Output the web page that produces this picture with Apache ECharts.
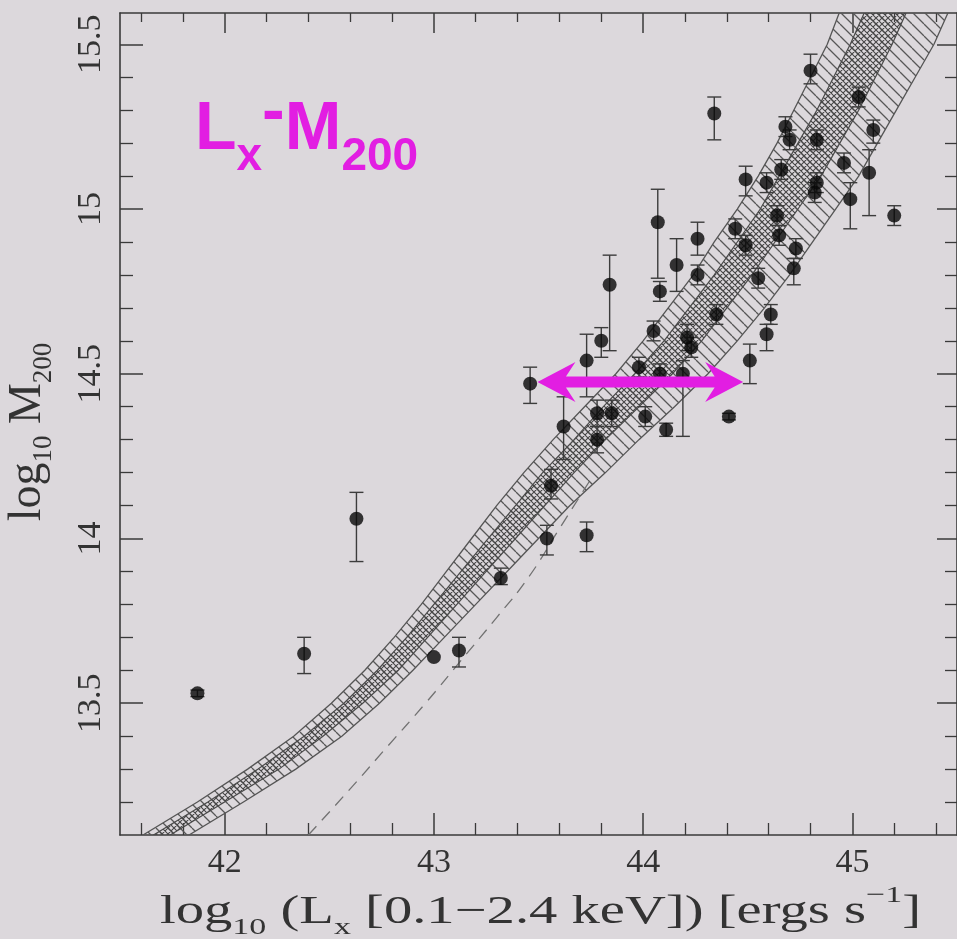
<!DOCTYPE html>
<html>
<head>
<meta charset="utf-8">
<script src="https://cdn.jsdelivr.net/npm/echarts@6/dist/echarts.min.js"></script>
<style>
  html, body { margin: 0; padding: 0; background: #dcd8dc; }
  #chart { width: 957px; height: 939px; }
</style>
</head>
<body>
<div id="chart"></div>
<script>
// Cluster sample: log10 Lx [0.1-2.4 keV] vs log10 M200, with asymmetric mass errors
const lumX = [41.87, 42.38, 42.63, 43.00, 43.12, 43.32, 43.54, 43.73, 43.46, 43.56,
              43.62, 43.73, 43.80, 43.84, 43.78, 43.85, 43.78, 43.98, 44.08, 44.19,
              44.01, 44.11, 44.05, 44.08, 44.07, 44.16, 44.26, 44.26, 44.21, 44.23,
              44.35, 44.44, 44.49, 44.49, 44.59, 44.55, 44.61, 44.59, 44.51, 44.41,
              44.68, 44.70, 44.66, 44.64, 44.65, 44.73, 44.72, 44.80, 44.83, 44.83,
              44.82, 44.96, 44.99, 45.03, 45.10, 45.08, 45.20, 44.34];
const massY = [13.53, 13.65, 14.06, 13.64, 13.66, 13.88, 14.00, 14.01, 14.47, 14.16,
               14.34, 14.54, 14.60, 14.77, 14.38, 14.38, 14.30, 14.52, 14.50, 14.50,
               14.37, 14.33, 14.63, 14.75, 14.96, 14.83, 14.91, 14.80, 14.61, 14.58,
               14.68, 14.94, 15.09, 14.89, 15.08, 14.79, 14.68, 14.62, 14.54, 14.37,
               15.25, 15.21, 15.12, 14.98, 14.92, 14.88, 14.82, 15.42, 15.21, 15.08,
               15.05, 15.14, 15.03, 15.34, 15.24, 15.11, 14.98, 15.29];
const errMinus = [0.01, 0.06, 0.13, 0, 0.05, 0.02, 0.05, 0.05, 0.06, 0.04,
                  0.10, 0.11, 0.05, 0.20, 0.04, 0.04, 0.04, 0.03, 0.03, 0.19,
                  0.03, 0.02, 0.03, 0.03, 0.17, 0.08, 0.05, 0.03, 0.04, 0.03,
                  0.03, 0.03, 0.05, 0.03, 0.03, 0.03, 0.03, 0.05, 0.07, 0.01,
                  0.03, 0.03, 0.03, 0.03, 0.03, 0.03, 0.05, 0.04, 0.03, 0.03,
                  0.03, 0.03, 0.09, 0.03, 0.04, 0.13, 0.03, 0.08];
const errPlus = [0.01, 0.05, 0.08, 0, 0.04, 0.03, 0.04, 0.04, 0.05, 0.05,
                 0.09, 0.08, 0.04, 0.09, 0.04, 0.04, 0.04, 0.03, 0.03, 0.04,
                 0.03, 0.02, 0.03, 0.03, 0.10, 0.08, 0.05, 0.03, 0.04, 0.03,
                 0.03, 0.03, 0.04, 0.03, 0.03, 0.03, 0.03, 0.03, 0.05, 0.01,
                 0.03, 0.03, 0.03, 0.03, 0.03, 0.03, 0.03, 0.05, 0.03, 0.03,
                 0.03, 0.03, 0.05, 0.03, 0.03, 0.07, 0.03, 0.05];

// Model relation band: edges (in log Lx) at each log M200 level
const bandMass   = [13.0, 13.1, 13.2, 13.3, 13.4, 13.5, 13.6, 13.7, 13.8, 13.9, 14.0, 14.1, 14.2, 14.3,
                    14.4, 14.5, 14.6, 14.7, 14.8, 14.9, 15.0, 15.1, 15.2, 15.3, 15.4, 15.5, 15.6];
const outerLeft  = [41.35, 41.61, 41.87, 42.11, 42.33, 42.51, 42.67, 42.81, 42.94, 43.06, 43.18, 43.30, 43.43, 43.57,
                    43.72, 43.87, 44.00, 44.12, 44.24, 44.34, 44.45, 44.55, 44.64, 44.72, 44.80, 44.88, 44.94];
const innerLeft  = [41.40, 41.66, 41.92, 42.16, 42.38, 42.57, 42.73, 42.87, 43.00, 43.13, 43.26, 43.39, 43.52, 43.67,
                    43.81, 43.96, 44.10, 44.22, 44.34, 44.45, 44.56, 44.65, 44.74, 44.83, 44.91, 44.99, 45.06];
const innerRight = [41.48, 41.74, 42.00, 42.26, 42.47, 42.66, 42.83, 42.97, 43.11, 43.25, 43.39, 43.53, 43.67, 43.82,
                    43.98, 44.14, 44.28, 44.40, 44.52, 44.63, 44.74, 44.85, 44.94, 45.03, 45.11, 45.19, 45.26];
const outerRight = [41.57, 41.83, 42.09, 42.34, 42.56, 42.74, 42.90, 43.05, 43.20, 43.35, 43.50, 43.65, 43.82, 43.98,
                    44.15, 44.31, 44.45, 44.58, 44.70, 44.81, 44.92, 45.03, 45.12, 45.21, 45.30, 45.39, 45.46];

// Dashed comparison curve
const dashLum  = [42.40, 42.60, 42.78, 42.96, 43.13, 43.30, 43.45, 43.60, 43.75];
const dashMass = [13.10, 13.24, 13.37, 13.50, 13.63, 13.76, 13.88, 14.03, 14.18];

// Double arrow marking the luminosity scatter at fixed mass
const arrowLum  = [43.495, 44.478];
const arrowMass = 14.475;

// Axis ticks
const xTickValues  = [42, 43, 44, 45];
const xMinorValues = [41.6, 41.8, 42.2, 42.4, 42.6, 42.8, 43.2, 43.4, 43.6, 43.8,
                      44.2, 44.4, 44.6, 44.8, 45.2, 45.4];
const yTickValues  = [13.5, 14, 14.5, 15, 15.5];
const yMinorValues = [13.2, 13.3, 13.4, 13.6, 13.7, 13.8, 13.9, 14.1, 14.2, 14.3, 14.4,
                      14.6, 14.7, 14.8, 14.9, 15.1, 15.2, 15.3, 15.4];

const SERIF = "'Liberation Serif', 'Times New Roman', serif";
const SANS = "'Liberation Sans', Arial, sans-serif";
const INK = '#3a3a3a';
const MAGENTA = '#e21ee2';

// Hatch tiles used as pattern fills for the band
function hatchTile(size, color, width, cross) {
  const c = document.createElement('canvas');
  c.width = size; c.height = size;
  const g = c.getContext('2d');
  g.strokeStyle = color;
  g.lineWidth = width;
  g.beginPath();
  for (const k of [-size, 0, size]) {
    g.moveTo(k, 0); g.lineTo(k + size, size);
    if (cross) { g.moveTo(k + size, 0); g.lineTo(k, size); }
  }
  g.stroke();
  return c;
}
const outerHatch = { image: hatchTile(12, '#575757', 1.3, false), repeat: 'repeat' };
const innerHatch = { image: hatchTile(6, '#464646', 1.1, true), repeat: 'repeat' };

const points = lumX.map((x, i) => [x, massY[i]]);
const errorBars = [];
lumX.forEach((x, i) => {
  if (errMinus[i] > 0 || errPlus[i] > 0) {
    errorBars.push([x, massY[i] - errMinus[i], massY[i] + errPlus[i]]);
  }
});
const dashed = dashLum.map((x, i) => [x, dashMass[i]]);

function bandPolygon(api, left, right) {
  const pts = [];
  for (let i = 0; i < bandMass.length; i++) pts.push(api.coord([left[i], bandMass[i]]));
  for (let i = bandMass.length - 1; i >= 0; i--) pts.push(api.coord([right[i], bandMass[i]]));
  return pts;
}

// Measure the natural width of a run of styled fragments
function textWidth(parts) {
  const ctx = document.createElement('canvas').getContext('2d');
  let w = 0;
  for (const [txt, font] of parts) { ctx.font = font; w += ctx.measureText(txt).width; }
  return w;
}
const xTitleNatural = textWidth([
  ['log', '40px ' + SERIF], ['10', '24px ' + SERIF], [' (L', '40px ' + SERIF], ['x', '24px ' + SERIF],
  [' [0.1\u22122.4 keV]) [ergs s', '40px ' + SERIF], ['\u22121', '24px ' + SERIF], [']', '40px ' + SERIF]
]);
const xTitleScale = 761 / xTitleNatural;

function majorAxis(kind, position, values, showLabel, tickLen) {
  const a = {
    type: 'value', position: position,
    min: kind === 'x' ? 41.5 : 13.1,
    max: kind === 'x' ? 45.5 : 15.595,
    axisLine: { show: true, onZero: false, lineStyle: { color: INK, width: 1.6 } },
    axisTick: { show: true, inside: true, length: tickLen, customValues: values,
                lineStyle: { color: INK, width: 1.5 } },
    axisLabel: { show: showLabel, customValues: values, fontFamily: SERIF, fontSize: 34, color: '#333' },
    splitLine: { show: false }
  };
  if (kind === 'x') a.axisLabel.margin = 11;
  else { a.axisLabel.rotate = 90; a.axisLabel.margin = 12; }
  return a;
}
function minorAxis(kind, position, values, tickLen) {
  return {
    type: 'value', position: position,
    min: kind === 'x' ? 41.5 : 13.1,
    max: kind === 'x' ? 45.5 : 15.595,
    axisLine: { show: false, onZero: false },
    axisTick: { show: true, inside: true, length: tickLen, customValues: values,
                lineStyle: { color: INK, width: 1.3 } },
    axisLabel: { show: false },
    splitLine: { show: false }
  };
}

const chart = echarts.init(document.getElementById('chart'));
chart.setOption({
  backgroundColor: '#dcd8dc',
  animation: false,
  grid: { left: 120, top: 13, width: 840, height: 822 },
  xAxis: [
    majorAxis('x', 'bottom', xTickValues, true, 22),
    minorAxis('x', 'bottom', xMinorValues, 12),
    majorAxis('x', 'top', xTickValues, false, 20),
    minorAxis('x', 'top', xMinorValues, 9)
  ],
  yAxis: [
    majorAxis('y', 'left', yTickValues, true, 23),
    minorAxis('y', 'left', yMinorValues, 13),
    majorAxis('y', 'right', yTickValues, false, 20),
    minorAxis('y', 'right', yMinorValues, 12)
  ],
  series: [
    {
      // model band: hatched outer envelope with darker cross-hatched core
      type: 'custom', clip: true, z: 1, silent: true,
      data: [[43.5, 14.3]],
      renderItem: function (params, api) {
        return {
          type: 'group',
          children: [
            { type: 'polygon', shape: { points: bandPolygon(api, outerLeft, outerRight) },
              style: { fill: outerHatch, stroke: '#555', lineWidth: 1.3 } },
            { type: 'polygon', shape: { points: bandPolygon(api, innerLeft, innerRight) },
              style: { fill: innerHatch, stroke: '#4a4a4a', lineWidth: 1.2 } }
          ]
        };
      }
    },
    {
      type: 'line', z: 2, data: dashed, symbol: 'none', smooth: true, silent: true,
      lineStyle: { color: '#727272', width: 1.3, type: [12, 8] }
    },
    {
      // vertical error bars with end caps
      type: 'custom', z: 3, data: errorBars, silent: true,
      encode: { x: 0, y: [1, 2] },
      renderItem: function (params, api) {
        const lo = api.coord([api.value(0), api.value(1)]);
        const hi = api.coord([api.value(0), api.value(2)]);
        const cap = 7;
        const st = { stroke: '#3c3c3c', lineWidth: 1.4 };
        return {
          type: 'group',
          children: [
            { type: 'line', shape: { x1: lo[0], y1: lo[1], x2: hi[0], y2: hi[1] }, style: st },
            { type: 'line', shape: { x1: lo[0] - cap, y1: lo[1], x2: lo[0] + cap, y2: lo[1] }, style: st },
            { type: 'line', shape: { x1: hi[0] - cap, y1: hi[1], x2: hi[0] + cap, y2: hi[1] }, style: st }
          ]
        };
      }
    },
    {
      type: 'scatter', z: 4, data: points, symbol: 'circle', symbolSize: 14, silent: true,
      itemStyle: { color: '#070707' }
    },
    {
      // magenta double-headed arrow
      type: 'custom', z: 5, silent: true,
      data: [[arrowLum[0], arrowLum[1], arrowMass]],
      encode: { x: [0, 1], y: 2 },
      renderItem: function (params, api) {
        const a = api.coord([api.value(0), api.value(2)]);
        const b = api.coord([api.value(1), api.value(2)]);
        const L = 38, H = 40, T = 11, n = 0.75, y = a[1];
        const pts = [
          [a[0], y], [a[0] + L, y - H / 2], [a[0] + L * n, y - T / 2],
          [b[0] - L * n, y - T / 2], [b[0] - L, y - H / 2], [b[0], y],
          [b[0] - L, y + H / 2], [b[0] - L * n, y + T / 2],
          [a[0] + L * n, y + T / 2], [a[0] + L, y + H / 2]
        ];
        return { type: 'polygon', shape: { points: pts }, style: { fill: MAGENTA } };
      }
    }
  ],
  graphic: [
    {
      type: 'text', x: 195, y: 80, z: 10,
      style: {
        text: '{m|L}{s|x}{h|-}{m|M}{s|200}',
        align: 'left', verticalAlign: 'top',
        rich: {
          m: { fontSize: 68, lineHeight: 100, fontWeight: 'bold', fontFamily: SANS, fill: MAGENTA },
          s: { fontSize: 46, lineHeight: 46, verticalAlign: 'bottom', fontWeight: 'bold', fontFamily: SANS, fill: MAGENTA },
          h: { fontSize: 68, lineHeight: 90, verticalAlign: 'top', fontWeight: 'bold', fontFamily: SANS, fill: MAGENTA }
        }
      }
    },
    {
      type: 'text', x: 160, y: 884, scaleX: xTitleScale, z: 10,
      style: {
        text: '{n|log}{s|10}{n| (L}{s|x}{n| [0.1\u22122.4 keV]) [ergs s}{p|\u22121}{n|]}',
        align: 'left', verticalAlign: 'top',
        rich: {
          n: { fontSize: 40, lineHeight: 56, fontFamily: SERIF, fill: '#333' },
          s: { fontSize: 24, lineHeight: 28, verticalAlign: 'bottom', fontFamily: SERIF, fill: '#333' },
          p: { fontSize: 24, lineHeight: 32, verticalAlign: 'top', fontFamily: SERIF, fill: '#333' }
        }
      }
    },
    {
      type: 'text', x: 27.5, y: 432, rotation: Math.PI / 2, z: 10,
      style: {
        text: '{n|log}{s|10}{n| M}{s|200}',
        align: 'center', verticalAlign: 'middle',
        rich: {
          n: { fontSize: 46, lineHeight: 60, fontFamily: SERIF, fill: '#333' },
          s: { fontSize: 27, lineHeight: 32, verticalAlign: 'bottom', fontFamily: SERIF, fill: '#333' }
        }
      }
    }
  ]
});
</script>
</body>
</html>
